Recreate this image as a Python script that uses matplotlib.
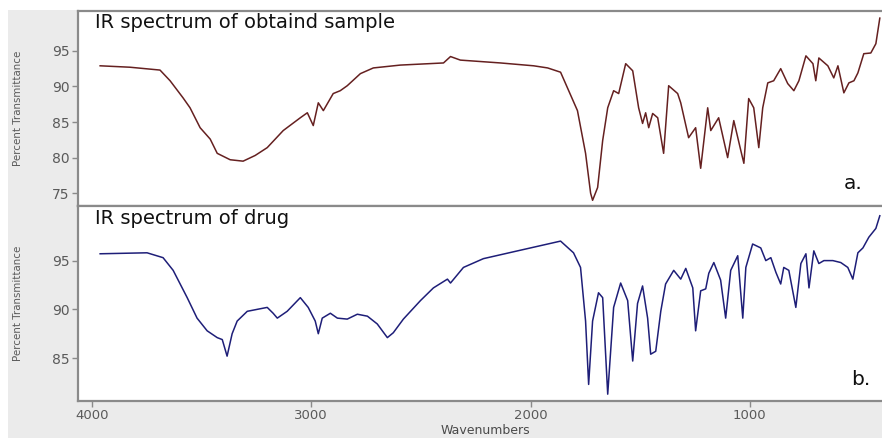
import matplotlib
matplotlib.use("Agg")
import matplotlib.pyplot as plt
from matplotlib.patches import Rectangle

# ---- data ----
wn_a = [3963, 3827, 3690, 3644, 3585, 3553, 3507, 3461, 3429, 3370, 3311, 3256, 3201, 3128,
        3050, 3018, 2991, 2968, 2945, 2900, 2868, 2836, 2776, 2717, 2594, 2397, 2365, 2320,
        2137, 1986, 1922, 1863, 1786, 1749, 1726, 1717, 1694, 1671, 1648, 1621, 1598, 1566,
        1534, 1507, 1489, 1475, 1461, 1443, 1420, 1393, 1370, 1329, 1315, 1279, 1247, 1224,
        1192, 1178, 1142, 1101, 1073, 1041, 1027, 1005, 982, 959, 941, 918, 891, 859, 827,
        799, 776, 744, 712, 699, 685, 644, 617, 598, 571, 548, 525, 507, 480, 448, 425, 407]
tr_a = [92.9, 92.7, 92.3, 90.8, 88.4, 87.0, 84.2, 82.6, 80.6, 79.7, 79.5, 80.3, 81.4, 83.8,
        85.6, 86.3, 84.5, 87.7, 86.6, 89.0, 89.4, 90.1, 91.8, 92.6, 93.0, 93.3, 94.2, 93.7,
        93.3, 92.9, 92.6, 92.0, 86.6, 80.6, 75.0, 74.0, 75.8, 82.4, 87.0, 89.4, 89.0, 93.2,
        92.2, 87.0, 84.8, 86.3, 84.2, 86.2, 85.6, 80.6, 90.1, 89.0, 87.7, 82.8, 84.2, 78.5,
        87.0, 83.8, 85.6, 80.0, 85.2, 81.0, 79.2, 88.3, 87.0, 81.4, 87.0, 90.5, 90.8, 92.5,
        90.4, 89.4, 90.8, 94.3, 93.2, 90.8, 94.0, 92.9, 91.2, 92.9, 89.1, 90.5, 90.8, 91.9,
        94.6, 94.7, 96.0, 99.6]

wn_b = [3963, 3749, 3676, 3630, 3566, 3521, 3475, 3429, 3406, 3384, 3361, 3338, 3292, 3201,
        3174, 3155, 3110, 3050, 3014, 2982, 2968, 2950, 2913, 2881, 2836, 2790, 2744, 2699,
        2653, 2626, 2580, 2502, 2443, 2379, 2365, 2306, 2215, 2059, 1863, 1804, 1772, 1749,
        1735, 1717, 1690, 1671, 1648, 1621, 1589, 1557, 1534, 1512, 1489, 1466, 1452, 1429,
        1406, 1384, 1347, 1315, 1292, 1260, 1247, 1224, 1201, 1187, 1164, 1133, 1110, 1087,
        1055, 1032, 1018, 987, 950, 927, 904, 881, 859, 845, 822, 790, 767, 744, 730, 708,
        685, 662, 621, 585, 553, 530, 507, 484, 457, 425, 407]
tr_b = [95.7, 95.8, 95.3, 94.0, 91.2, 89.1, 87.8, 87.1, 86.9, 85.2, 87.5, 88.8, 89.8, 90.2,
        89.6, 89.1, 89.8, 91.2, 90.2, 88.8, 87.5, 89.1, 89.6, 89.1, 89.0, 89.5, 89.3, 88.5,
        87.1, 87.6, 89.0, 90.9, 92.2, 93.1, 92.7, 94.3, 95.2, 96.0, 97.0, 95.8, 94.3, 88.8,
        82.3, 88.8, 91.7, 91.2, 81.3, 90.2, 92.7, 90.9, 84.7, 90.6, 92.4, 89.1, 85.4, 85.7,
        89.8, 92.6, 94.0, 93.1, 94.2, 92.2, 87.8, 91.9, 92.1, 93.7, 94.8, 93.0, 89.1, 94.0,
        95.5, 89.1, 94.3, 96.7, 96.3, 95.0, 95.3, 93.8, 92.6, 94.3, 94.0, 90.2, 94.7, 95.7,
        92.2, 96.0, 94.7, 95.0, 95.0, 94.8, 94.3, 93.1, 95.8, 96.3, 97.4, 98.3, 99.6]

x_ticks = [4000, 3000, 2000, 1000]
y_ticks_a = [75, 80, 85, 90, 95]
y_ticks_b = [85, 90, 95]
title_a = "IR spectrum of obtaind sample"
title_b = "IR spectrum of drug"

# ---- figure ----
W, H = 882, 438
fig = plt.figure(figsize=(W / 100, H / 100), dpi=100)
fig.patch.set_facecolor("white")
bg = Rectangle((8 / W, 0), 1, (H - 10) / H, transform=fig.transFigure,
               facecolor="#ebebeb", edgecolor="none", zorder=-5)
fig.patches.append(bg)

left = 78 / W
width = 1 - left
ax_a = fig.add_axes([left, 1 - 206 / H, width, 195 / H])
ax_b = fig.add_axes([left, 1 - 401 / H, width, 195 / H])

frame = "#8a8a8a"
tickc = "#5a5a5a"
fam = "DejaVu Sans"
for ax in (ax_a, ax_b):
    ax.set_zorder(2)
    ax.set_facecolor("white")
    ax.set_xlim(4064, 397)
    for s in ax.spines.values():
        s.set_color(frame)
        s.set_linewidth(1.6)
    ax.spines["right"].set_visible(False)
    ax.tick_params(axis="y", direction="out", length=4, width=1, color=frame,
                   labelcolor=tickc, labelsize=10, pad=2)
    ax.set_ylabel("Percent Transmittance", fontsize=7.4, color=tickc, fontfamily=fam)
    ax.yaxis.set_label_coords(-0.068, 0.5)

ax_a.plot(wn_a, tr_a, color="#652020", lw=1.1)
ax_b.plot(wn_b, tr_b, color="#1e1e78", lw=1.1)

ax_a.set_ylim(73.2, 100.6)
ax_a.set_yticks(y_ticks_a)
ax_b.set_ylim(80.6, 100.6)
ax_b.set_yticks(y_ticks_b)

ax_a.set_xticks([])
ax_b.set_xticks(x_ticks)
ax_b.tick_params(axis="x", direction="out", length=4, width=1, color=frame,
                 labelcolor=tickc, labelsize=9.5, pad=2)
ax_b.set_xlabel("Wavenumbers", fontsize=9, color="#4a4a4a", fontfamily=fam)
ax_b.xaxis.set_label_coords(0.507, -0.12)
for ax in (ax_a, ax_b):
    for lbl in ax.get_yticklabels() + ax.get_xticklabels():
        lbl.set_fontfamily(fam)

ax_a.text(0.021, 0.99, title_a, transform=ax_a.transAxes, ha="left", va="top",
          fontsize=14, fontfamily=fam, color="#111111")
ax_b.text(0.021, 0.985, title_b, transform=ax_b.transAxes, ha="left", va="top",
          fontsize=14, fontfamily=fam, color="#111111")
ax_a.text(0.953, 0.115, "a.", transform=ax_a.transAxes, ha="left", va="center",
          fontsize=14.5, fontfamily=fam, color="#111111")
ax_b.text(0.962, 0.11, "b.", transform=ax_b.transAxes, ha="left", va="center",
          fontsize=14.5, fontfamily=fam, color="#111111")

fig.savefig("out.png", dpi=100)
